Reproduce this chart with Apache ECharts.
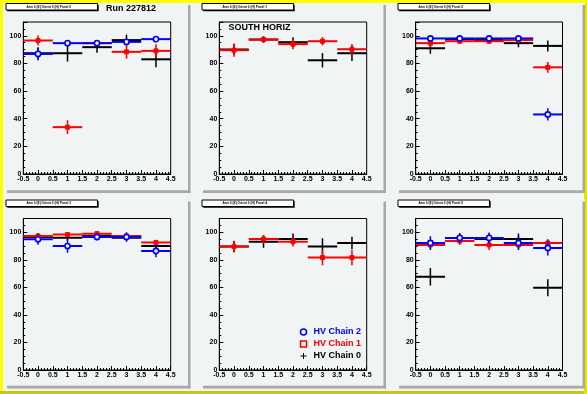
<!DOCTYPE html>
<html><head><meta charset="utf-8">
<script src="https://cdn.jsdelivr.net/npm/echarts@6/dist/echarts.min.js"></script>
<style>html,body{margin:0;padding:0;background:#f0f4f4}#c{width:587px;height:394px}</style>
</head><body><div id="c"></div>
<script>
// ---- data ----
const xBins = [0, 1, 2, 3, 4];
const panelTitles = [
  'Arm 0 (E) Orient 0 (H) Panel 0', 'Arm 0 (E) Orient 0 (H) Panel 1', 'Arm 0 (E) Orient 0 (H) Panel 2',
  'Arm 0 (E) Orient 0 (H) Panel 3', 'Arm 0 (E) Orient 0 (H) Panel 4', 'Arm 0 (E) Orient 0 (H) Panel 5'
];
const runLabel = 'Run 227812';
const regionLabel = 'SOUTH HORIZ';
const chainNames = ['HV Chain 0', 'HV Chain 1', 'HV Chain 2'];

// HV Chain 0 (black)
const chain0Val = [
  [87.4, 87.4, 91.8, 96.9, 83.0],
  [90.1, 97.3, 95.4, 82.3, 87.4],
  [91.0, 97.5, 96.9, 94.7, 92.7],
  [96.6, 96.1, 97.3, 96.1, 90.0],
  [89.6, 93.2, 95.1, 89.6, 92.2],
  [67.7, 95.9, 95.1, 95.1, 59.7]
];
const chain0Err = [
  [4.0, 6.0, 4.0, 4.0, 5.7],
  [4.0, 2.5, 3.6, 5.2, 5.7],
  [4.0, 2.0, 2.0, 3.0, 4.0],
  [2.5, 2.0, 2.0, 2.0, 2.5],
  [4.0, 4.5, 4.0, 6.0, 4.5],
  [6.3, 3.0, 4.0, 4.0, 6.2]
];
// HV Chain 1 (red)
const chain1Val = [
  [96.6, 33.9, 94.7, 88.4, 89.1],
  [89.6, 97.3, 94.0, 96.1, 90.3],
  [94.7, 96.1, 96.1, 96.9, 77.2],
  [97.3, 98.3, 99.0, 97.3, 92.5],
  [89.6, 95.1, 93.2, 81.6, 81.6],
  [90.8, 93.7, 90.8, 90.8, 92.2]
];
const chain1Err = [
  [3.6, 5.0, 2.0, 5.0, 4.8],
  [4.8, 2.4, 3.8, 3.0, 3.6],
  [3.0, 2.0, 2.0, 2.0, 3.9],
  [2.0, 1.5, 1.5, 1.5, 2.0],
  [4.2, 3.0, 3.6, 5.5, 5.5],
  [3.0, 3.0, 3.6, 3.0, 3.0]
];
// HV Chain 2 (blue)
const chain2Val = [
  [86.9, 94.7, 94.7, 95.6, 97.6],
  [null, null, null, null, null],
  [98.1, 98.1, 98.1, 98.1, 43.1],
  [94.9, 90.0, 96.6, 96.6, 86.4],
  [null, null, null, null, null],
  [92.2, 95.9, 95.9, 92.2, 88.6]
];
const chain2Err = [
  [4.8, 2.0, 2.0, 2.0, 1.2],
  [0, 0, 0, 0, 0],
  [1.5, 1.5, 1.5, 1.5, 4.4],
  [4.0, 4.8, 2.5, 3.4, 4.5],
  [0, 0, 0, 0, 0],
  [5.0, 3.6, 4.0, 5.0, 5.5]
];
const xTickInterval = 0.5, xMin = -0.5, xMax = 4.5;
const yMin = 0, yMax = 110, yTickInterval = 20;

// ---- layout / style ----
const PAD = '#f0f4f4';
const colLeft = [23.3, 219.3, 415.7];
const rowTop = [22, 218.5];
const gridW = [147.4, 147.4, 146.8];
const gridH = [152, 151.5];
const padLeft = [5, 201, 397];
const padW = [185.5, 185, 188];
const padTop = [3, 199.5];
const padH = [190, 189];
const FONT = 'Liberation Sans, Arial, Helvetica, sans-serif';

const chainStyle = [
  {color: '#000000', marker: 'none'},
  {color: '#ff0000', marker: 'square'},
  {color: '#0000ff', marker: 'circle'}
];
const vals = [chain0Val, chain1Val, chain2Val];
const errs = [chain0Err, chain1Err, chain2Err];

function makeRender(color, marker) {
  return function (params, api) {
    const x = api.value(0), y = api.value(1), e = api.value(2);
    const l = api.coord([x - 0.5, y]), r = api.coord([x + 0.5, y]);
    const t = api.coord([x, y + e]), b = api.coord([x, y - e]);
    const c = api.coord([x, y]);
    const children = [
      {type: 'line', shape: {x1: l[0], y1: l[1], x2: r[0], y2: r[1]}, style: {stroke: color, lineWidth: 2}},
      {type: 'line', shape: {x1: t[0], y1: t[1], x2: b[0], y2: b[1]}, style: {stroke: color, lineWidth: 1.5}}
    ];
    if (marker === 'circle') {
      children.push({type: 'circle', shape: {cx: c[0], cy: c[1], r: 2.6}, style: {fill: PAD, stroke: color, lineWidth: 1.6}});
    } else if (marker === 'square') {
      children.push({type: 'rect', shape: {x: c[0] - 2, y: c[1] - 2, width: 4, height: 4}, style: {fill: color, stroke: color, lineWidth: 1}});
    }
    return {type: 'group', children: children};
  };
}

const grids = [], xAxes = [], yAxes = [], series = [], graphics = [];

// canvas frame
graphics.push({type: 'rect', z: -20, shape: {x: 0, y: 0, width: 587, height: 394}, style: {fill: PAD}});
graphics.push({type: 'rect', z: -19, shape: {x: 0, y: 391, width: 587, height: 3}, style: {fill: '#c8c800'}});
graphics.push({type: 'rect', z: -19, shape: {x: 584, y: 0, width: 3, height: 394}, style: {fill: '#e4e400'}});
graphics.push({type: 'rect', z: -19, shape: {x: 0, y: 0, width: 587, height: 3}, style: {fill: '#ffff00'}});
graphics.push({type: 'rect', z: -19, shape: {x: 0, y: 0, width: 3, height: 391}, style: {fill: '#ffff00'}});

for (let p = 0; p < 6; p++) {
  const col = p % 3, row = Math.floor(p / 3);
  const pl = padLeft[col], pt = padTop[row], pw = padW[col], ph = padH[row];
  // pad with shadow
  graphics.push({type: 'rect', z: -15, shape: {x: pl, y: pt, width: pw, height: ph}, style: {fill: PAD}});
  graphics.push({type: 'rect', z: -14, shape: {x: pl + pw - 2.5, y: pt + 2, width: 2.5, height: ph - 2}, style: {fill: '#a8a8a8'}});
  graphics.push({type: 'rect', z: -14, shape: {x: pl + 2, y: pt + ph - 2.7, width: pw - 2, height: 2.7}, style: {fill: '#a8a8a8'}});
  // title box
  const tx = pl + 1, ty = pt + 0.5, tw = 91.5, th = 6.5;
  graphics.push({type: 'rect', z: 10, shape: {x: tx + 1.2, y: ty + 1.2, width: tw, height: th}, style: {fill: '#000'}});
  graphics.push({type: 'rect', z: 11, shape: {x: tx, y: ty, width: tw, height: th}, style: {fill: '#fff', stroke: '#000', lineWidth: 1}});
  graphics.push({type: 'text', z: 12, x: tx + tw / 2 - 3, y: ty + th / 2 + 0.3,
    style: {text: panelTitles[p], font: 'bold 3.2px ' + FONT, fill: '#000', align: 'center', verticalAlign: 'middle'}});

  grids.push({left: colLeft[col], top: rowTop[row], width: gridW[col], height: gridH[row],
    show: true, borderColor: '#000', borderWidth: 1, backgroundColor: 'transparent',
    containLabel: false, outerBoundsMode: 'none'});
  xAxes.push({gridIndex: p, type: 'value', min: xMin, max: xMax, interval: xTickInterval,
    axisLine: {show: true, onZero: false, lineStyle: {color: '#000', width: 1}},
    axisTick: {show: true, inside: true, length: 4, lineStyle: {color: '#000', width: 1}},
    minorTick: {show: true, splitNumber: 5, length: 2, lineStyle: {color: '#000', width: 1}},
    splitLine: {show: false}, minorSplitLine: {show: false},
    axisLabel: {fontSize: 7, fontWeight: 'bold', fontFamily: FONT, color: '#000', margin: 2, showMinLabel: true, showMaxLabel: true, hideOverlap: false}
  });
  yAxes.push({gridIndex: p, type: 'value', min: yMin, max: yMax, interval: yTickInterval,
    axisLine: {show: true, onZero: false, lineStyle: {color: '#000', width: 1}},
    axisTick: {show: true, inside: true, length: 4, lineStyle: {color: '#000', width: 1}},
    minorTick: {show: true, splitNumber: 4, length: 2, lineStyle: {color: '#000', width: 1}},
    splitLine: {show: false}, minorSplitLine: {show: false},
    axisLabel: {fontSize: 7, fontWeight: 'bold', fontFamily: FONT, color: '#000', margin: 2, showMinLabel: true, hideOverlap: false,
      formatter: function (v) { return v > 100 ? '' : String(v); }}
  });

  for (let c = 0; c < 3; c++) {
    const data = [];
    xBins.forEach(function (xv, i) {
      const v = vals[c][p][i];
      if (v !== null && v !== undefined) data.push([xv, v, errs[c][p][i]]);
    });
    series.push({
      name: chainNames[c], type: 'custom', xAxisIndex: p, yAxisIndex: p,
      coordinateSystem: 'cartesian2d', encode: {x: 0, y: 1},
      renderItem: makeRender(chainStyle[c].color, chainStyle[c].marker),
      data: data, z: 2 + c, silent: true, clip: true
    });
  }
}

// annotations
graphics.push({type: 'text', z: 12, x: 106, y: 8.7,
  style: {text: runLabel, font: 'bold 9px ' + FONT, fill: '#000', align: 'left', verticalAlign: 'middle'}});
graphics.push({type: 'text', z: 12, x: 228.5, y: 28,
  style: {text: regionLabel, font: 'bold 9px ' + FONT, fill: '#000', align: 'left', verticalAlign: 'middle'}});

const option = {
  animation: false,
  backgroundColor: PAD,
  grid: grids, xAxis: xAxes, yAxis: yAxes, series: series,
  graphic: {elements: graphics},
  legend: {
    left: 298, top: 326, orient: 'vertical', itemWidth: 6, itemHeight: 6, itemGap: 0,
    selectedMode: false, padding: 0,
    textStyle: {fontSize: 9, fontWeight: 'bold', fontFamily: FONT, lineHeight: 12, padding: [0, 0, 0, 2]},
    data: [
      {name: chainNames[2], icon: 'circle', itemStyle: {color: PAD, borderColor: '#0000ff', borderWidth: 1.5}, textStyle: {color: '#0000ff'}},
      {name: chainNames[1], icon: 'rect', itemStyle: {color: PAD, borderColor: '#ff0000', borderWidth: 1.5}, textStyle: {color: '#ff0000'}},
      {name: chainNames[0], icon: 'path://M0,3L6,3M3,0L3,6', itemStyle: {color: 'none', borderColor: '#000000', borderWidth: 1}, textStyle: {color: '#000000'}}
    ]
  }
};
const chart = echarts.init(document.getElementById('c'), null, {renderer: 'canvas', width: 587, height: 394});
chart.setOption(option);
</script>
</body></html>
